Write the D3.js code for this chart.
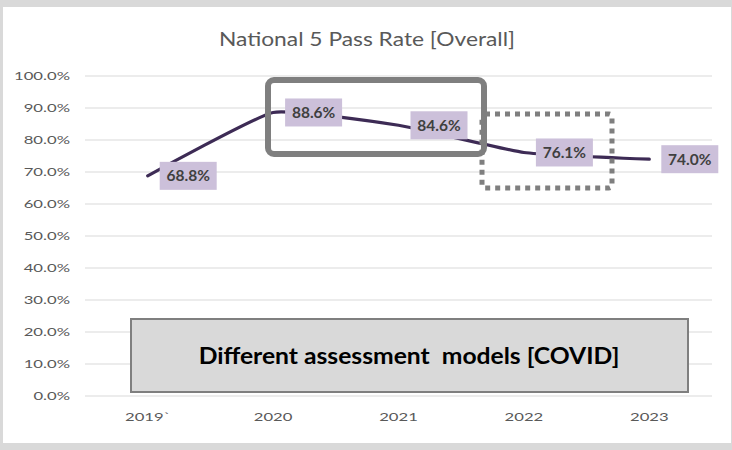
<!DOCTYPE html>
<html>
<head>
<meta charset="utf-8">
<script src="https://cdn.jsdelivr.net/npm/d3@7"></script>
<style>
  body { margin:0; background:#d9d9d9; }
  svg { display:block; font-family:Lato, "Open Sans", sans-serif; }
</style>
</head>
<body>
<div id="chart"></div>
<script>
// data
var years = ["2019`", "2020", "2021", "2022", "2023"];
var passRate = [68.8, 88.6, 84.6, 76.1, 74.0];
var yTicks = [0, 10, 20, 30, 40, 50, 60, 70, 80, 90, 100];
var chartTitle = "National 5 Pass Rate [Overall]";
var noteText = "Different assessment  models [COVID]";

var W = 732, H = 450;
var margin = {left:85, right:20, top:76, bottom:54};
// the source picture is a bit stretched sideways
var axisStretch = 1.45;

var svg = d3.select('#chart').append('svg').attr('width',W).attr('height',H);

// card
svg.append('rect').attr('x',3).attr('y',7).attr('width',728).attr('height',436).attr('fill','#fff');

var x = d3.scaleBand().domain(years).range([margin.left, W - margin.right]);
var y = d3.scaleLinear().domain([0,100]).range([H - margin.bottom, margin.top]);

svg.append('text').attr('transform','translate(367,46) scale(1.2,1)').attr('text-anchor','middle')
  .attr('font-size',19).attr('fill','#595959').text(chartTitle);

// grid
svg.append('g').selectAll('line').data(yTicks).enter().append('line')
  .attr('x1',margin.left).attr('x2',W - margin.right)
  .attr('y1',function(d){return y(d);}).attr('y2',function(d){return y(d);})
  .attr('stroke','#d9d9d9').attr('stroke-width',1);

var yAxis = svg.append('g').attr('transform','translate(70,0)')
  .call(d3.axisLeft(y).tickValues(yTicks).tickSize(0).tickPadding(0).tickFormat(function(d){return d.toFixed(1)+'%';}));
yAxis.select('.domain').remove();
yAxis.selectAll('text').attr('font-size',11.5).attr('fill','#595959').attr('font-family','Lato, sans-serif')
  .attr('transform','scale('+axisStretch+',1)');

var xAxis = svg.append('g').attr('transform','translate(0,'+(H - margin.bottom + 14)+')')
  .call(d3.axisBottom(x).tickSize(0).tickPadding(3));
xAxis.select('.domain').remove();
xAxis.selectAll('text').attr('font-size',11.5).attr('fill','#595959').attr('font-family','Lato, sans-serif')
  .attr('transform','scale('+axisStretch+',1)');

// line
var pts = years.map(function(yr,i){ return [x(yr)+x.bandwidth()/2, y(passRate[i])]; });
svg.append('path').attr('d', d3.line().curve(d3.curveCardinal.tension(0.6))(pts))
  .attr('fill','none').attr('stroke','#3d2b55').attr('stroke-width',3.2).attr('stroke-linecap','round');

// labels
var lab = svg.append('g').selectAll('g').data(pts).enter().append('g')
  .attr('transform',function(d){ return 'translate('+(d[0]+12)+','+d[1]+')'; });
lab.append('rect').attr('x',0).attr('y',-14).attr('width',57).attr('height',28).attr('fill','#ccc0da');
lab.append('text').attr('x',28.5).attr('y',5.5).attr('text-anchor','middle')
  .attr('font-size',15.5).attr('font-weight','bold').attr('fill','#404040')
  .text(function(d,i){ return passRate[i].toFixed(1)+'%'; });

// covid year frames
svg.append('rect').attr('x',268).attr('y',80).attr('width',216).attr('height',74).attr('rx',6)
  .attr('fill','none').attr('stroke','#7f7f7f').attr('stroke-width',6);
svg.append('rect').attr('x',482).attr('y',114).attr('width',130).attr('height',74).attr('rx',3)
  .attr('fill','none').attr('stroke','#7f7f7f').attr('stroke-width',5).attr('stroke-dasharray','5,5');

// note box
svg.append('rect').attr('x',131).attr('y',319).attr('width',557).attr('height',73)
  .attr('fill','#d9d9d9').attr('stroke','#7f7f7f').attr('stroke-width',2);
svg.append('text').attr('transform','translate(409,364) scale(1.05,1)').attr('text-anchor','middle')
  .style('white-space','pre')
  .attr('font-size',23.5).attr('font-weight','bold').attr('fill','#000').text(noteText);
</script>
</body>
</html>
